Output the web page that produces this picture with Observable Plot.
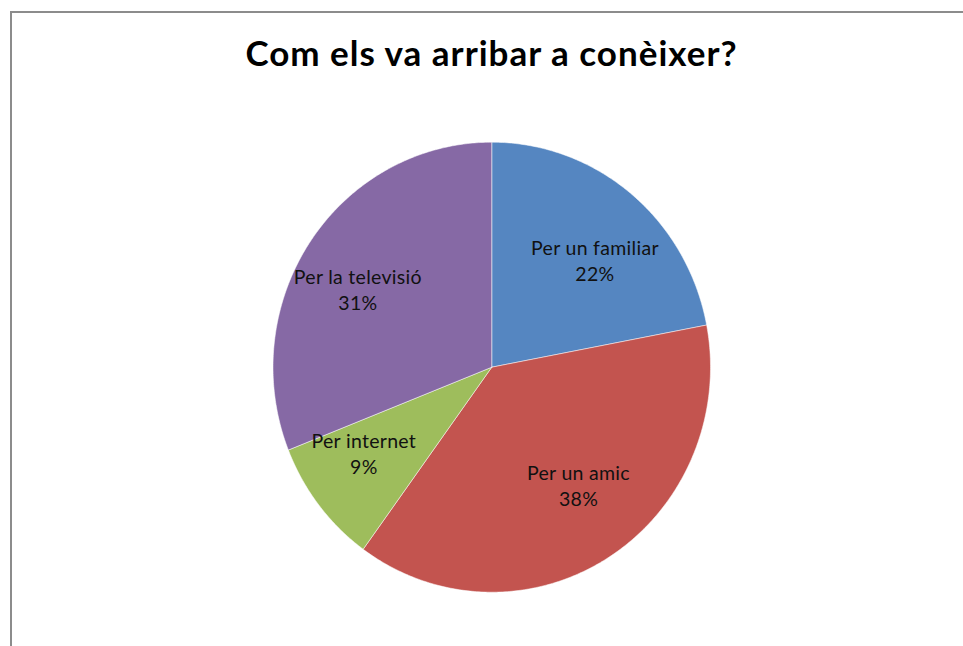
<!DOCTYPE html>
<html>
<head>
<meta charset="utf-8">
<script src="https://cdn.jsdelivr.net/npm/d3@7"></script>
<script src="https://cdn.jsdelivr.net/npm/@observablehq/plot@0.6"></script>
<style>
  html, body { margin: 0; padding: 0; background: #fff; overflow: hidden; }
  #wrap { position: relative; width: 963px; height: 646px; }
  #frame { position: absolute; left: 10px; top: 11px; width: 1000px; height: 700px;
           border-left: 2px solid #8c8c8c; border-top: 2px solid #8c8c8c; box-sizing: border-box; }
  #title { position: absolute; left: 0; width: 983px; top: 35px; text-align: center; line-height: 35px;
           font-family: Lato, "Open Sans", sans-serif; font-weight: bold; font-size: 35px;
           letter-spacing: 1px; color: #000; }
  #chart { position: absolute; left: 0; top: 0; }
  #chart text { letter-spacing: 0.3px; }
</style>
</head>
<body>
<div id="wrap">
  <div id="frame"></div>
  <div id="chart"></div>
  <div id="title">Com els va arribar a conèixer?</div>
</div>
<script>
const categories = ["Per un familiar", "Per un amic", "Per internet", "Per la televisió"];
const values = [22, 38, 9, 31];
const colors = ["#5586C1", "#C3544F", "#9EBD5C", "#8669A5"];

const pie = d3.pie().sort(null).value(d => d.value);
const arcs = pie(categories.map((c, i) => ({label: c, value: values[i], color: colors[i]})));

// polygon outline of each slice in unit-circle coordinates (angle clockwise from top)
const slices = arcs.map(a => {
  const n = Math.max(2, Math.ceil((a.endAngle - a.startAngle) / 0.01));
  const pts = [{x: 0, y: 0}];
  for (let k = 0; k <= n; k++) {
    const t = a.startAngle + (a.endAngle - a.startAngle) * k / n;
    pts.push({x: Math.sin(t), y: Math.cos(t)});
  }
  pts.push({x: 0, y: 0});
  return {label: a.data.label, color: a.data.color, pts};
});

// labels sit at the slice's mid-angle on an inner ellipse
const labelRx = 0.74, labelRy = 0.62;
const labels = arcs.map(a => {
  const m = (a.startAngle + a.endAngle) / 2;
  return {x: labelRx * Math.sin(m), y: labelRy * Math.cos(m), text: `${a.data.label}\n${a.data.value}%`};
});

const plot = Plot.plot({
  width: 963,
  height: 646,
  marginLeft: 272.5,
  marginRight: 253,
  marginTop: 141.7,
  marginBottom: 54.3,
  x: {domain: [-1, 1], axis: null},
  y: {domain: [-1, 1], axis: null},
  style: {background: "transparent", overflow: "visible"},
  marks: [
    ...slices.map(s => Plot.line(s.pts, {x: "x", y: "y", fill: s.color, stroke: "#ffffff", strokeOpacity: 0.5, strokeWidth: 1, curve: "linear-closed"})),
    Plot.text(labels, {x: "x", y: "y", text: "text", fontSize: 19.5, lineHeight: 1.34, fill: "#111",
      fontFamily: "Lato, 'Open Sans', sans-serif"})
  ]
});
document.getElementById("chart").appendChild(plot);
</script>
</body>
</html>
